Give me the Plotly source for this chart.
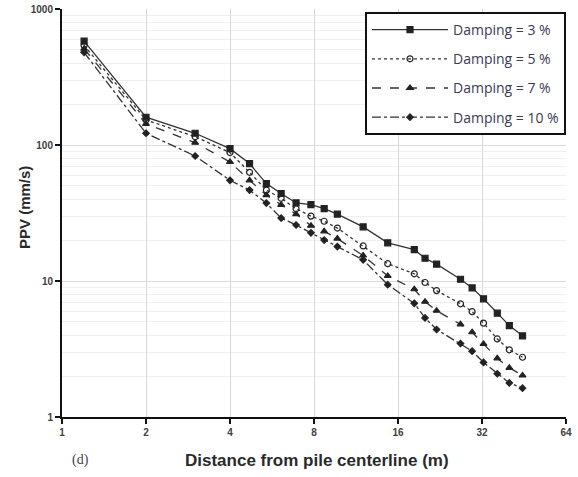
import plotly.graph_objects as go

distance = [1.2, 2, 3, 4, 4.7, 5.4, 6.1, 6.9, 7.8, 8.7, 9.7, 12, 14.7, 18.3, 20, 22, 26.8, 29.5, 32.4, 36.3, 40.1, 44.7]
ppv_3 = [580, 160, 122, 94, 73, 52, 44, 37.5, 36.5, 34, 31, 25, 19.1, 17, 14.7, 13.3, 10.3, 8.9, 7.4, 5.8, 4.7, 3.95]
ppv_5 = [540, 153, 115, 88, 63, 46.6, 40.6, 34, 30, 27.5, 24.5, 18.1, 13.4, 11.3, 9.75, 8.5, 6.8, 5.95, 4.9, 3.75, 3.12, 2.75]
ppv_7 = [510, 143, 104, 75, 55, 42.8, 36.3, 31, 25.5, 23.2, 20.5, 15.4, 10.9, 8.7, 7.05, 6.05, 4.8, 4.2, 3.45, 2.7, 2.3, 2.02]
ppv_10 = [480, 122, 83, 55, 46.6, 37.4, 29, 25.8, 22.6, 20, 17.9, 14.3, 9.4, 6.85, 5.35, 4.4, 3.47, 3.05, 2.52, 2.08, 1.78, 1.63]

series_names = ["Damping = 3 %", "Damping = 5 %", "Damping = 7 %", "Damping = 10 %"]
x_ticks = [1, 2, 4, 8, 16, 32, 64]
x_tick_labels = ["1", "2", "4", "8", "16", "32", "64"]
y_ticks = [1, 10, 100, 1000]
y_tick_labels = ["1", "10", "100", "1000"]
y_minor = [m * d for d in (1, 10, 100) for m in range(2, 10)]

styles = [
    dict(dash="solid", symbol="square", size=6),
    dict(dash="dot", symbol="circle-open", size=6),
    dict(dash="dash", symbol="triangle-up", size=6),
    dict(dash="dashdot", symbol="diamond", size=5),
]

fig = go.Figure()
for i, (name, vals, st) in enumerate(zip(series_names, [ppv_3, ppv_5, ppv_7, ppv_10], styles)):
    fig.add_trace(go.Scatter(
        x=distance, y=vals, name=name, mode="lines+markers",
        legendgroup=f"g{i}",
        line=dict(color="#333", width=1.3, dash=st["dash"]),
        marker=dict(symbol=st["symbol"], size=st["size"], color="#222",
                    line=dict(color="#222", width=1.2)),
    ))

tick_font = dict(family="Liberation Sans, Arial", size=10, color="#404040", weight="bold")

L, T, W, H = 62, 9, 504, 408

fig.update_layout(
    width=578, height=477,
    margin=dict(l=L, r=578 - L - W, t=T, b=477 - T - H),
    paper_bgcolor="white", plot_bgcolor="white",
    showlegend=True,
    legend=dict(
        x=1.0, y=(417 - 12) / H, xanchor="right", yanchor="top",
        bordercolor="#111", borderwidth=2, bgcolor="white",
        font=dict(family="Open Sans, Liberation Sans", size=14, color="#3a3a55"),
        tracegroupgap=8, itemwidth=76,
    ),
    xaxis=dict(
        type="log", range=[0, 1.80618], automargin=False,
        tickmode="array", tickvals=x_ticks, ticktext=x_tick_labels,
        showgrid=True, gridcolor="#d9d9d9", gridwidth=1,
        showline=True, linecolor="#111", linewidth=2,
        ticks="outside", ticklen=5, tickcolor="#111", tickwidth=1.5,
        tickfont=tick_font, zeroline=False,
    ),
    yaxis=dict(
        type="log", range=[0, 3], automargin=False,
        tickmode="array", tickvals=y_ticks, ticktext=y_tick_labels,
        showgrid=True, gridcolor="#d9d9d9", gridwidth=1,
        minor=dict(tickmode="array", tickvals=y_minor, showgrid=True, gridcolor="#efefef", ticks=""),
        showline=True, linecolor="#111", linewidth=2,
        ticks="outside", ticklen=5, tickcolor="#111", tickwidth=1.5,
        tickfont=tick_font, zeroline=False,
    ),
)

fig.add_annotation(
    text="<b>Distance from pile centerline (m)</b>", xref="paper", yref="paper",
    x=(317 - L) / W, y=(417 - 460) / H, xanchor="center", yanchor="middle",
    showarrow=False, font=dict(family="Liberation Sans, Arial", size=17, color="#2a2a2a"),
)
fig.add_annotation(
    text="<b>PPV (mm/s)</b>", xref="paper", yref="paper", textangle=-90,
    x=(24 - L) / W, y=(417 - 208) / H, xanchor="center", yanchor="middle",
    showarrow=False, font=dict(family="Liberation Sans, Arial", size=15, color="#2a2a2a"),
)
fig.add_annotation(
    text="(d)", xref="paper", yref="paper",
    x=(80 - L) / W, y=(417 - 460) / H, xanchor="center", yanchor="middle",
    showarrow=False, font=dict(family="Liberation Serif, Times New Roman", size=14, color="#444"),
)

fig.write_html("out.html", config={"displayModeBar": False},
               post_script="document.body.style.margin='0';document.body.style.overflow='hidden';")
